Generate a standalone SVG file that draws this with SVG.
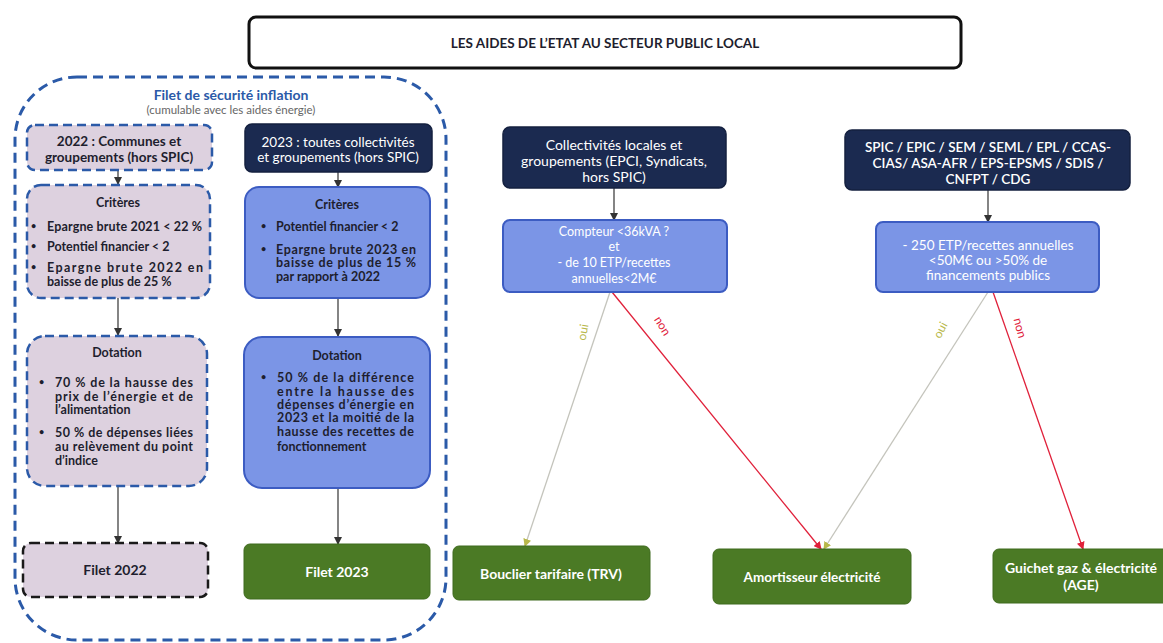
<svg xmlns="http://www.w3.org/2000/svg" width="1163" height="643" viewBox="0 0 1163 643">
<style>
text{font-family:Lato,"Open Sans","Liberation Sans",sans-serif;}
.lav{fill:#ddd1df;stroke:#2b5aa8;stroke-width:2.5;stroke-dasharray:9 5;}
.navy{fill:#1b2a50;stroke:#14203f;stroke-width:1.5;}
.blue{fill:#7b95e6;stroke:#3c5cc2;stroke-width:2;}
.green{fill:#4b7a25;stroke:#3f6a1e;stroke-width:1;}
.w{fill:#ffffff;font-size:13.5px;text-anchor:middle;}
.wb{fill:#ffffff;font-size:14px;font-weight:bold;text-anchor:middle;}
.d{fill:#1e1e2e;font-size:12.5px;font-weight:bold;}
.dc{fill:#1e1e2e;font-size:12.5px;font-weight:bold;text-anchor:middle;}
.bl{fill:#1e1e2e;font-size:9px;font-weight:bold;}
.t{fill:#1e1e2e;font-size:13.5px;font-weight:bold;text-anchor:middle;}
.bt{fill:#ffffff;font-size:13.5px;text-anchor:middle;}
.ln{stroke:#333;stroke-width:1.2;fill:none;}
</style>
<defs>
<marker id="ah" markerWidth="8" markerHeight="8" refX="7" refY="4" orient="auto" markerUnits="userSpaceOnUse"><path d="M0,0 L8,4 L0,8 z" fill="#333"/></marker>
<marker id="ahr" markerWidth="8" markerHeight="8" refX="7" refY="4" orient="auto" markerUnits="userSpaceOnUse"><path d="M0,0 L8,4 L0,8 z" fill="#e0203a"/></marker>
<marker id="ahy" markerWidth="8" markerHeight="8" refX="7" refY="4" orient="auto" markerUnits="userSpaceOnUse"><path d="M0,0 L8,4 L0,8 z" fill="#b8b84a"/></marker>
</defs>
<rect width="1163" height="643" fill="#ffffff"/>

<g id="title">
<rect x="249" y="17" width="712" height="51" rx="7" fill="#fff" stroke="#111" stroke-width="3"/>
<text x="605" y="48" class="t">LES AIDES DE L’ETAT AU SECTEUR PUBLIC LOCAL</text>
</g>

<g id="filet-container">
<rect x="15" y="77" width="431" height="563" rx="62" fill="none" stroke="#2b5aa8" stroke-width="3" stroke-dasharray="10 6"/>
<text x="231" y="100" style="fill:#2b5aa8;font-size:14px;font-weight:bold;text-anchor:middle">Filet de sécurité inflation</text>
<text x="231" y="114" style="fill:#666;font-size:11.5px;text-anchor:middle">(cumulable avec les aides énergie)</text>
</g>

<g id="connectors">
<line class="ln" x1="118" y1="170" x2="118" y2="184" marker-end="url(#ah)"/>
<line class="ln" x1="118" y1="298" x2="118" y2="335" marker-end="url(#ah)"/>
<line class="ln" x1="118" y1="486" x2="118" y2="543" marker-end="url(#ah)"/>
<line class="ln" x1="338" y1="172" x2="338" y2="187" marker-end="url(#ah)"/>
<line class="ln" x1="338" y1="298" x2="338" y2="336" marker-end="url(#ah)"/>
<line class="ln" x1="338" y1="488" x2="338" y2="544" marker-end="url(#ah)"/>
<line class="ln" x1="614" y1="188" x2="614" y2="220" marker-end="url(#ah)"/>
<line class="ln" x1="988" y1="190" x2="988" y2="222" marker-end="url(#ah)"/>
<line x1="610" y1="292" x2="525" y2="546" stroke="#c4c4bc" stroke-width="1.3" marker-end="url(#ahy)"/>
<line x1="612" y1="292" x2="821" y2="549" stroke="#e0203a" stroke-width="1.3" marker-end="url(#ahr)"/>
<line x1="988" y1="292" x2="824" y2="549" stroke="#c4c4bc" stroke-width="1.3" marker-end="url(#ahy)"/>
<line x1="993" y1="292" x2="1083" y2="549" stroke="#e0203a" stroke-width="1.3" marker-end="url(#ahr)"/>
<text x="0" y="0" transform="translate(587,333) rotate(-80)" style="fill:#b8b84a;font-size:12px;text-anchor:middle">oui</text>
<text x="0" y="0" transform="translate(659,328) rotate(58)" style="fill:#e0203a;font-size:12px;text-anchor:middle">non</text>
<text x="0" y="0" transform="translate(944,332) rotate(-62)" style="fill:#b8b84a;font-size:12px;text-anchor:middle">oui</text>
<text x="0" y="0" transform="translate(1016,329) rotate(75)" style="fill:#e0203a;font-size:12px;text-anchor:middle">non</text>
</g>

<g id="box-2022">
<rect class="lav" x="27" y="125" width="185" height="45" rx="8"/>
<text x="119" y="146" class="t">2022 : Communes et</text>
<text x="119" y="162" class="t">groupements (hors SPIC)</text>
</g>

<g id="criteres-2022">
<rect class="lav" x="27" y="185" width="183" height="113" rx="14"/>
<text x="118" y="207" class="dc">Critères</text>
<text x="31" y="229" class="bl">•</text><text x="47" y="231" class="d" textLength="155" lengthAdjust="spacing">Epargne brute 2021 &lt; 22 %</text>
<text x="31" y="249" class="bl">•</text><text x="47" y="251" class="d">Potentiel financier &lt; 2</text>
<text x="31" y="270" class="bl">•</text><text x="47" y="272" class="d" textLength="156" lengthAdjust="spacing">Epargne brute 2022 en</text>
<text x="47" y="286" class="d">baisse de plus de 25 %</text>
</g>

<g id="dotation-2022">
<rect class="lav" x="27" y="336" width="180" height="150" rx="18"/>
<text x="117" y="357" class="dc">Dotation</text>
<text x="39" y="385" class="bl">•</text><text x="55" y="387" class="d" textLength="138" lengthAdjust="spacing">70 % de la hausse des</text>
<text x="55" y="401" class="d" textLength="138" lengthAdjust="spacing">prix de l’énergie et de</text>
<text x="55" y="414" class="d">l’alimentation</text>
<text x="39" y="435" class="bl">•</text><text x="55" y="437" class="d" textLength="138" lengthAdjust="spacing">50 % de dépenses liées</text>
<text x="55" y="451" class="d" textLength="138" lengthAdjust="spacing">au relèvement du point</text>
<text x="55" y="465" class="d">d’indice</text>
</g>

<g id="filet-2022">
<rect x="23" y="543" width="185" height="54" rx="8" fill="#ddd1df" stroke="#1a1a1a" stroke-width="2.5" stroke-dasharray="9 5"/>
<text x="115" y="575" class="t" style="font-size:14px">Filet 2022</text>
</g>

<g id="box-2023">
<rect class="navy" x="245" y="124" width="187" height="48" rx="7"/>
<text x="338" y="147" class="w">2023 : toutes collectivités</text>
<text x="338" y="162" class="w">et groupements (hors SPIC)</text>
</g>

<g id="criteres-2023">
<rect class="blue" x="245" y="187" width="185" height="111" rx="14"/>
<text x="337" y="209" class="dc">Critères</text>
<text x="261" y="229" class="bl">•</text><text x="276" y="231" class="d">Potentiel financier &lt; 2</text>
<text x="261" y="252" class="bl">•</text><text x="276" y="254" class="d" textLength="140" lengthAdjust="spacing">Epargne brute 2023 en</text>
<text x="276" y="267" class="d" textLength="140" lengthAdjust="spacing">baisse de plus de 15 %</text>
<text x="276" y="281" class="d">par rapport à 2022</text>
</g>

<g id="dotation-2023">
<rect class="blue" x="244" y="337" width="186" height="151" rx="18"/>
<text x="337" y="360" class="dc">Dotation</text>
<text x="261" y="380" class="bl">•</text><text x="277" y="382" class="d" textLength="137" lengthAdjust="spacing">50 % de la différence</text>
<text x="277" y="396" class="d" textLength="137" lengthAdjust="spacing">entre la hausse des</text>
<text x="277" y="409" class="d" textLength="137" lengthAdjust="spacing">dépenses d’énergie en</text>
<text x="277" y="422" class="d" textLength="137" lengthAdjust="spacing">2023 et la moitié de la</text>
<text x="277" y="436" class="d" textLength="137" lengthAdjust="spacing">hausse des recettes de</text>
<text x="277" y="451" class="d">fonctionnement</text>
</g>

<g id="filet-2023">
<rect class="green" x="244" y="544" width="186" height="55" rx="6"/>
<text x="337" y="577" class="wb">Filet 2023</text>
</g>

<g id="collectivites">
<rect class="navy" x="503" y="127" width="223" height="61" rx="7"/>
<text x="614" y="150" class="w" style="font-size:14px">Collectivités locales et</text>
<text x="614" y="166" class="w" style="font-size:14px">groupements (EPCI, Syndicats,</text>
<text x="614" y="182" class="w" style="font-size:14px">hors SPIC)</text>
</g>

<g id="compteur">
<rect class="blue" x="503" y="220" width="224" height="72" rx="7"/>
<text x="614" y="236" class="bt" style="font-size:12.5px">Compteur &lt;36kVA ?</text>
<text x="614" y="251" class="bt" style="font-size:12.5px">et</text>
<text x="614" y="267" class="bt" style="font-size:12.5px">- de 10 ETP/recettes</text>
<text x="614" y="283" class="bt" style="font-size:12.5px">annuelles&lt;2M€</text>
</g>

<g id="spic">
<rect class="navy" x="845" y="130" width="285" height="60" rx="7"/>
<text x="988" y="152" class="w" style="font-weight:600">SPIC / EPIC / SEM / SEML / EPL / CCAS-</text>
<text x="988" y="168" class="w" style="font-weight:600">CIAS/ ASA-AFR / EPS-EPSMS / SDIS /</text>
<text x="988" y="184" class="w" style="font-weight:600">CNFPT / CDG</text>
</g>

<g id="etp250">
<rect class="blue" x="876" y="222" width="223" height="70" rx="7"/>
<text x="988" y="250" class="bt">- 250 ETP/recettes annuelles</text>
<text x="988" y="265" class="bt">&lt;50M€ ou &gt;50% de</text>
<text x="988" y="280" class="bt">financements publics</text>
</g>

<g id="bouclier">
<rect class="green" x="453" y="546" width="197" height="54" rx="6"/>
<text x="551" y="579" class="wb">Bouclier tarifaire (TRV)</text>
</g>

<g id="amortisseur">
<rect class="green" x="713" y="549" width="198" height="55" rx="6"/>
<text x="812" y="582" class="wb" style="font-size:13.5px">Amortisseur électricité</text>
</g>

<g id="guichet">
<rect class="green" x="993" y="549" width="180" height="54" rx="6"/>
<text x="1081" y="573" class="wb">Guichet gaz &amp; électricité</text>
<text x="1081" y="590" class="wb">(AGE)</text>
</g>
</svg>
